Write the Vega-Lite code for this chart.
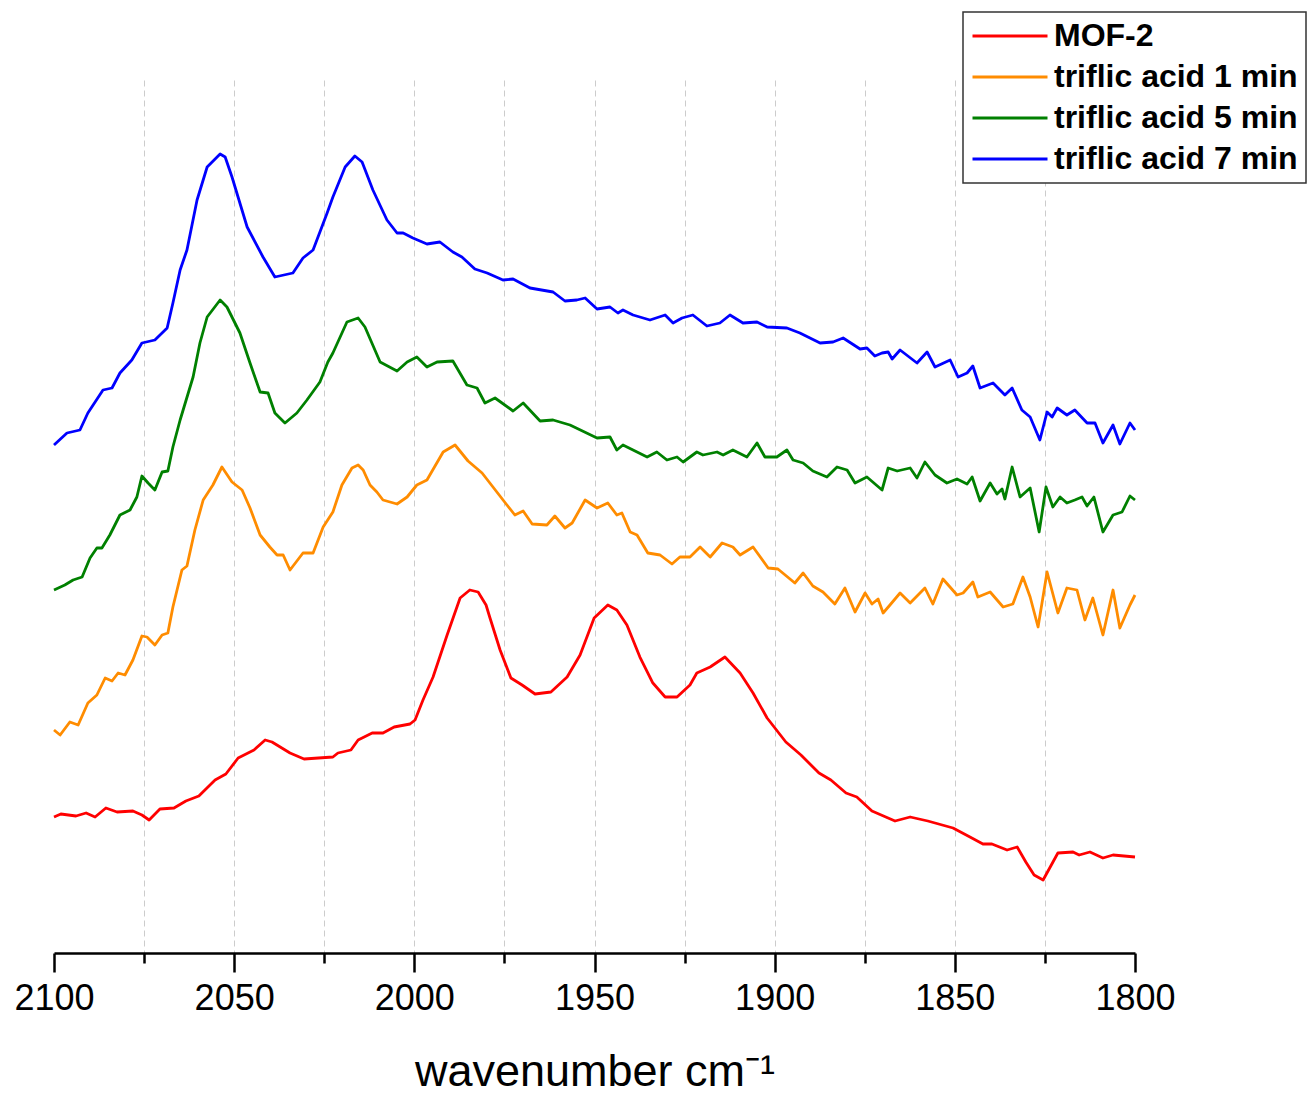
{
  "$schema": "https://vega.github.io/schema/vega-lite/v6.json",
  "width": 1081,
  "height": 873,
  "autosize": {"type": "none"},
  "padding": {"left": 54, "top": 80, "right": 173, "bottom": 142},
  "background": "white",
  "config": {"view": {"stroke": null}},
  "data": {"values": [
    {"s":"MOF-2","x":2100.0,"y":1.36},{"s":"MOF-2","x":2098.1,"y":1.39},{"s":"MOF-2","x":2093.9,"y":1.37},{"s":"MOF-2","x":2091.1,"y":1.40},{"s":"MOF-2","x":2088.6,"y":1.36},{"s":"MOF-2","x":2085.6,"y":1.45},{"s":"MOF-2","x":2082.5,"y":1.41},{"s":"MOF-2","x":2078.1,"y":1.42},{"s":"MOF-2","x":2075.6,"y":1.38},{"s":"MOF-2","x":2073.6,"y":1.33},{"s":"MOF-2","x":2070.6,"y":1.44},{"s":"MOF-2","x":2066.7,"y":1.45},{"s":"MOF-2","x":2063.4,"y":1.52},{"s":"MOF-2","x":2059.8,"y":1.57},{"s":"MOF-2","x":2055.3,"y":1.73},{"s":"MOF-2","x":2052.3,"y":1.79},{"s":"MOF-2","x":2048.9,"y":1.95},{"s":"MOF-2","x":2044.5,"y":2.03},{"s":"MOF-2","x":2041.4,"y":2.13},{"s":"MOF-2","x":2039.5,"y":2.11},{"s":"MOF-2","x":2034.5,"y":2.00},{"s":"MOF-2","x":2030.6,"y":1.94},{"s":"MOF-2","x":2022.6,"y":1.96},{"s":"MOF-2","x":2021.2,"y":2.00},{"s":"MOF-2","x":2017.6,"y":2.03},{"s":"MOF-2","x":2015.6,"y":2.13},{"s":"MOF-2","x":2011.7,"y":2.20},{"s":"MOF-2","x":2008.7,"y":2.20},{"s":"MOF-2","x":2005.6,"y":2.26},{"s":"MOF-2","x":2001.2,"y":2.29},{"s":"MOF-2","x":1999.8,"y":2.33},{"s":"MOF-2","x":1997.6,"y":2.53},{"s":"MOF-2","x":1994.8,"y":2.76},{"s":"MOF-2","x":1990.9,"y":3.18},{"s":"MOF-2","x":1987.3,"y":3.55},{"s":"MOF-2","x":1984.6,"y":3.63},{"s":"MOF-2","x":1982.3,"y":3.61},{"s":"MOF-2","x":1980.1,"y":3.48},{"s":"MOF-2","x":1979.0,"y":3.35},{"s":"MOF-2","x":1976.2,"y":3.03},{"s":"MOF-2","x":1973.2,"y":2.75},{"s":"MOF-2","x":1970.1,"y":2.68},{"s":"MOF-2","x":1966.5,"y":2.59},{"s":"MOF-2","x":1962.1,"y":2.61},{"s":"MOF-2","x":1957.6,"y":2.76},{"s":"MOF-2","x":1954.0,"y":2.98},{"s":"MOF-2","x":1950.1,"y":3.35},{"s":"MOF-2","x":1946.3,"y":3.48},{"s":"MOF-2","x":1943.8,"y":3.43},{"s":"MOF-2","x":1941.0,"y":3.28},{"s":"MOF-2","x":1937.4,"y":2.96},{"s":"MOF-2","x":1933.8,"y":2.70},{"s":"MOF-2","x":1930.4,"y":2.56},{"s":"MOF-2","x":1927.1,"y":2.56},{"s":"MOF-2","x":1923.5,"y":2.68},{"s":"MOF-2","x":1921.6,"y":2.80},{"s":"MOF-2","x":1917.9,"y":2.86},{"s":"MOF-2","x":1913.8,"y":2.96},{"s":"MOF-2","x":1909.6,"y":2.80},{"s":"MOF-2","x":1906.0,"y":2.60},{"s":"MOF-2","x":1902.1,"y":2.35},{"s":"MOF-2","x":1896.9,"y":2.11},{"s":"MOF-2","x":1892.7,"y":1.98},{"s":"MOF-2","x":1887.7,"y":1.80},{"s":"MOF-2","x":1884.4,"y":1.73},{"s":"MOF-2","x":1880.2,"y":1.60},{"s":"MOF-2","x":1877.2,"y":1.56},{"s":"MOF-2","x":1873.0,"y":1.42},{"s":"MOF-2","x":1866.6,"y":1.32},{"s":"MOF-2","x":1862.4,"y":1.36},{"s":"MOF-2","x":1857.5,"y":1.32},{"s":"MOF-2","x":1850.5,"y":1.25},{"s":"MOF-2","x":1845.8,"y":1.16},{"s":"MOF-2","x":1842.2,"y":1.09},{"s":"MOF-2","x":1839.7,"y":1.09},{"s":"MOF-2","x":1835.5,"y":1.03},{"s":"MOF-2","x":1832.7,"y":1.06},{"s":"MOF-2","x":1830.3,"y":0.91},{"s":"MOF-2","x":1828.0,"y":0.78},{"s":"MOF-2","x":1825.5,"y":0.73},{"s":"MOF-2","x":1821.4,"y":1.00},{"s":"MOF-2","x":1817.2,"y":1.01},{"s":"MOF-2","x":1815.5,"y":0.98},{"s":"MOF-2","x":1812.5,"y":1.01},{"s":"MOF-2","x":1808.9,"y":0.95},{"s":"MOF-2","x":1806.1,"y":0.98},{"s":"MOF-2","x":1800.0,"y":0.96},

    {"s":"triflic acid 1 min","x":2100.0,"y":2.23},{"s":"triflic acid 1 min","x":2098.3,"y":2.18},{"s":"triflic acid 1 min","x":2095.6,"y":2.31},{"s":"triflic acid 1 min","x":2093.3,"y":2.28},{"s":"triflic acid 1 min","x":2090.6,"y":2.50},{"s":"triflic acid 1 min","x":2088.1,"y":2.58},{"s":"triflic acid 1 min","x":2085.8,"y":2.75},{"s":"triflic acid 1 min","x":2083.9,"y":2.72},{"s":"triflic acid 1 min","x":2082.2,"y":2.80},{"s":"triflic acid 1 min","x":2080.3,"y":2.78},{"s":"triflic acid 1 min","x":2078.1,"y":2.93},{"s":"triflic acid 1 min","x":2075.6,"y":3.17},{"s":"triflic acid 1 min","x":2074.2,"y":3.16},{"s":"triflic acid 1 min","x":2072.0,"y":3.08},{"s":"triflic acid 1 min","x":2070.0,"y":3.18},{"s":"triflic acid 1 min","x":2068.4,"y":3.20},{"s":"triflic acid 1 min","x":2067.0,"y":3.46},{"s":"triflic acid 1 min","x":2064.5,"y":3.83},{"s":"triflic acid 1 min","x":2063.1,"y":3.87},{"s":"triflic acid 1 min","x":2060.9,"y":4.23},{"s":"triflic acid 1 min","x":2058.6,"y":4.53},{"s":"triflic acid 1 min","x":2055.9,"y":4.68},{"s":"triflic acid 1 min","x":2053.4,"y":4.86},{"s":"triflic acid 1 min","x":2050.6,"y":4.71},{"s":"triflic acid 1 min","x":2047.8,"y":4.63},{"s":"triflic acid 1 min","x":2045.6,"y":4.45},{"s":"triflic acid 1 min","x":2042.8,"y":4.18},{"s":"triflic acid 1 min","x":2040.1,"y":4.06},{"s":"triflic acid 1 min","x":2038.1,"y":3.98},{"s":"triflic acid 1 min","x":2036.4,"y":3.98},{"s":"triflic acid 1 min","x":2034.5,"y":3.83},{"s":"triflic acid 1 min","x":2030.9,"y":4.00},{"s":"triflic acid 1 min","x":2028.1,"y":4.00},{"s":"triflic acid 1 min","x":2025.3,"y":4.26},{"s":"triflic acid 1 min","x":2022.6,"y":4.41},{"s":"triflic acid 1 min","x":2020.1,"y":4.68},{"s":"triflic acid 1 min","x":2017.3,"y":4.85},{"s":"triflic acid 1 min","x":2015.6,"y":4.88},{"s":"triflic acid 1 min","x":2014.2,"y":4.83},{"s":"triflic acid 1 min","x":2012.3,"y":4.68},{"s":"triflic acid 1 min","x":2010.4,"y":4.61},{"s":"triflic acid 1 min","x":2008.7,"y":4.53},{"s":"triflic acid 1 min","x":2004.8,"y":4.49},{"s":"triflic acid 1 min","x":2002.0,"y":4.56},{"s":"triflic acid 1 min","x":1999.3,"y":4.68},{"s":"triflic acid 1 min","x":1996.5,"y":4.73},{"s":"triflic acid 1 min","x":1992.0,"y":5.01},{"s":"triflic acid 1 min","x":1988.7,"y":5.08},{"s":"triflic acid 1 min","x":1985.1,"y":4.92},{"s":"triflic acid 1 min","x":1981.2,"y":4.80},{"s":"triflic acid 1 min","x":1977.1,"y":4.61},{"s":"triflic acid 1 min","x":1974.3,"y":4.48},{"s":"triflic acid 1 min","x":1972.1,"y":4.38},{"s":"triflic acid 1 min","x":1969.8,"y":4.42},{"s":"triflic acid 1 min","x":1967.3,"y":4.29},{"s":"triflic acid 1 min","x":1963.2,"y":4.28},{"s":"triflic acid 1 min","x":1961.0,"y":4.37},{"s":"triflic acid 1 min","x":1958.2,"y":4.25},{"s":"triflic acid 1 min","x":1956.2,"y":4.30},{"s":"triflic acid 1 min","x":1952.6,"y":4.53},{"s":"triflic acid 1 min","x":1949.3,"y":4.45},{"s":"triflic acid 1 min","x":1946.3,"y":4.50},{"s":"triflic acid 1 min","x":1943.8,"y":4.38},{"s":"triflic acid 1 min","x":1942.4,"y":4.40},{"s":"triflic acid 1 min","x":1940.1,"y":4.21},{"s":"triflic acid 1 min","x":1938.2,"y":4.18},{"s":"triflic acid 1 min","x":1935.2,"y":4.00},{"s":"triflic acid 1 min","x":1931.8,"y":3.98},{"s":"triflic acid 1 min","x":1928.5,"y":3.89},{"s":"triflic acid 1 min","x":1926.3,"y":3.96},{"s":"triflic acid 1 min","x":1923.5,"y":3.96},{"s":"triflic acid 1 min","x":1920.7,"y":4.06},{"s":"triflic acid 1 min","x":1917.9,"y":3.96},{"s":"triflic acid 1 min","x":1914.6,"y":4.10},{"s":"triflic acid 1 min","x":1911.6,"y":4.06},{"s":"triflic acid 1 min","x":1909.6,"y":3.98},{"s":"triflic acid 1 min","x":1906.0,"y":4.06},{"s":"triflic acid 1 min","x":1901.8,"y":3.85},{"s":"triflic acid 1 min","x":1899.1,"y":3.84},{"s":"triflic acid 1 min","x":1894.4,"y":3.70},{"s":"triflic acid 1 min","x":1892.1,"y":3.80},{"s":"triflic acid 1 min","x":1889.4,"y":3.67},{"s":"triflic acid 1 min","x":1886.6,"y":3.61},{"s":"triflic acid 1 min","x":1883.3,"y":3.49},{"s":"triflic acid 1 min","x":1880.5,"y":3.65},{"s":"triflic acid 1 min","x":1877.7,"y":3.41},{"s":"triflic acid 1 min","x":1874.9,"y":3.60},{"s":"triflic acid 1 min","x":1873.0,"y":3.49},{"s":"triflic acid 1 min","x":1871.3,"y":3.54},{"s":"triflic acid 1 min","x":1869.9,"y":3.40},{"s":"triflic acid 1 min","x":1868.0,"y":3.48},{"s":"triflic acid 1 min","x":1865.2,"y":3.60},{"s":"triflic acid 1 min","x":1862.4,"y":3.50},{"s":"triflic acid 1 min","x":1858.3,"y":3.65},{"s":"triflic acid 1 min","x":1856.1,"y":3.49},{"s":"triflic acid 1 min","x":1853.3,"y":3.74},{"s":"triflic acid 1 min","x":1849.4,"y":3.58},{"s":"triflic acid 1 min","x":1847.7,"y":3.60},{"s":"triflic acid 1 min","x":1845.0,"y":3.71},{"s":"triflic acid 1 min","x":1843.6,"y":3.56},{"s":"triflic acid 1 min","x":1840.2,"y":3.61},{"s":"triflic acid 1 min","x":1836.6,"y":3.46},{"s":"triflic acid 1 min","x":1833.9,"y":3.49},{"s":"triflic acid 1 min","x":1831.1,"y":3.76},{"s":"triflic acid 1 min","x":1829.1,"y":3.56},{"s":"triflic acid 1 min","x":1826.9,"y":3.26},{"s":"triflic acid 1 min","x":1824.4,"y":3.81},{"s":"triflic acid 1 min","x":1821.4,"y":3.40},{"s":"triflic acid 1 min","x":1818.9,"y":3.65},{"s":"triflic acid 1 min","x":1816.1,"y":3.63},{"s":"triflic acid 1 min","x":1813.9,"y":3.33},{"s":"triflic acid 1 min","x":1811.7,"y":3.55},{"s":"triflic acid 1 min","x":1808.9,"y":3.18},{"s":"triflic acid 1 min","x":1806.1,"y":3.63},{"s":"triflic acid 1 min","x":1804.2,"y":3.25},{"s":"triflic acid 1 min","x":1801.4,"y":3.48},{"s":"triflic acid 1 min","x":1800.0,"y":3.58},

    {"s":"triflic acid 5 min","x":2100.0,"y":3.63},{"s":"triflic acid 5 min","x":2097.0,"y":3.68},{"s":"triflic acid 5 min","x":2094.7,"y":3.73},{"s":"triflic acid 5 min","x":2092.2,"y":3.76},{"s":"triflic acid 5 min","x":2090.0,"y":3.95},{"s":"triflic acid 5 min","x":2088.1,"y":4.05},{"s":"triflic acid 5 min","x":2086.7,"y":4.05},{"s":"triflic acid 5 min","x":2084.5,"y":4.18},{"s":"triflic acid 5 min","x":2081.7,"y":4.38},{"s":"triflic acid 5 min","x":2078.9,"y":4.43},{"s":"triflic acid 5 min","x":2077.0,"y":4.56},{"s":"triflic acid 5 min","x":2075.6,"y":4.77},{"s":"triflic acid 5 min","x":2073.9,"y":4.70},{"s":"triflic acid 5 min","x":2072.0,"y":4.63},{"s":"triflic acid 5 min","x":2070.0,"y":4.81},{"s":"triflic acid 5 min","x":2068.4,"y":4.82},{"s":"triflic acid 5 min","x":2067.0,"y":5.06},{"s":"triflic acid 5 min","x":2065.0,"y":5.33},{"s":"triflic acid 5 min","x":2061.4,"y":5.76},{"s":"triflic acid 5 min","x":2059.5,"y":6.10},{"s":"triflic acid 5 min","x":2057.5,"y":6.36},{"s":"triflic acid 5 min","x":2053.9,"y":6.53},{"s":"triflic acid 5 min","x":2052.0,"y":6.46},{"s":"triflic acid 5 min","x":2048.4,"y":6.20},{"s":"triflic acid 5 min","x":2045.6,"y":5.90},{"s":"triflic acid 5 min","x":2042.8,"y":5.61},{"s":"triflic acid 5 min","x":2040.6,"y":5.60},{"s":"triflic acid 5 min","x":2038.7,"y":5.40},{"s":"triflic acid 5 min","x":2035.9,"y":5.30},{"s":"triflic acid 5 min","x":2032.6,"y":5.40},{"s":"triflic acid 5 min","x":2029.8,"y":5.53},{"s":"triflic acid 5 min","x":2026.2,"y":5.71},{"s":"triflic acid 5 min","x":2024.0,"y":5.91},{"s":"triflic acid 5 min","x":2022.6,"y":6.00},{"s":"triflic acid 5 min","x":2018.7,"y":6.31},{"s":"triflic acid 5 min","x":2015.6,"y":6.35},{"s":"triflic acid 5 min","x":2013.7,"y":6.26},{"s":"triflic acid 5 min","x":2009.5,"y":5.91},{"s":"triflic acid 5 min","x":2004.8,"y":5.82},{"s":"triflic acid 5 min","x":2002.0,"y":5.91},{"s":"triflic acid 5 min","x":1999.3,"y":5.96},{"s":"triflic acid 5 min","x":1996.5,"y":5.86},{"s":"triflic acid 5 min","x":1993.7,"y":5.91},{"s":"triflic acid 5 min","x":1989.3,"y":5.92},{"s":"triflic acid 5 min","x":1985.4,"y":5.68},{"s":"triflic acid 5 min","x":1982.6,"y":5.65},{"s":"triflic acid 5 min","x":1980.4,"y":5.50},{"s":"triflic acid 5 min","x":1977.6,"y":5.55},{"s":"triflic acid 5 min","x":1972.6,"y":5.42},{"s":"triflic acid 5 min","x":1969.8,"y":5.50},{"s":"triflic acid 5 min","x":1965.1,"y":5.32},{"s":"triflic acid 5 min","x":1961.5,"y":5.33},{"s":"triflic acid 5 min","x":1956.8,"y":5.28},{"s":"triflic acid 5 min","x":1949.3,"y":5.15},{"s":"triflic acid 5 min","x":1945.7,"y":5.16},{"s":"triflic acid 5 min","x":1943.8,"y":5.03},{"s":"triflic acid 5 min","x":1942.1,"y":5.08},{"s":"triflic acid 5 min","x":1935.4,"y":4.96},{"s":"triflic acid 5 min","x":1932.7,"y":5.01},{"s":"triflic acid 5 min","x":1929.9,"y":4.93},{"s":"triflic acid 5 min","x":1927.1,"y":4.96},{"s":"triflic acid 5 min","x":1925.4,"y":4.91},{"s":"triflic acid 5 min","x":1921.6,"y":5.01},{"s":"triflic acid 5 min","x":1919.9,"y":4.98},{"s":"triflic acid 5 min","x":1916.0,"y":5.01},{"s":"triflic acid 5 min","x":1914.3,"y":4.98},{"s":"triflic acid 5 min","x":1911.6,"y":5.03},{"s":"triflic acid 5 min","x":1907.7,"y":4.96},{"s":"triflic acid 5 min","x":1904.9,"y":5.10},{"s":"triflic acid 5 min","x":1902.7,"y":4.96},{"s":"triflic acid 5 min","x":1899.4,"y":4.96},{"s":"triflic acid 5 min","x":1896.6,"y":5.03},{"s":"triflic acid 5 min","x":1894.9,"y":4.93},{"s":"triflic acid 5 min","x":1892.1,"y":4.90},{"s":"triflic acid 5 min","x":1889.4,"y":4.82},{"s":"triflic acid 5 min","x":1885.5,"y":4.76},{"s":"triflic acid 5 min","x":1882.7,"y":4.86},{"s":"triflic acid 5 min","x":1879.9,"y":4.83},{"s":"triflic acid 5 min","x":1877.7,"y":4.70},{"s":"triflic acid 5 min","x":1874.4,"y":4.76},{"s":"triflic acid 5 min","x":1870.2,"y":4.63},{"s":"triflic acid 5 min","x":1868.5,"y":4.85},{"s":"triflic acid 5 min","x":1866.0,"y":4.82},{"s":"triflic acid 5 min","x":1862.4,"y":4.85},{"s":"triflic acid 5 min","x":1860.5,"y":4.75},{"s":"triflic acid 5 min","x":1858.3,"y":4.91},{"s":"triflic acid 5 min","x":1855.5,"y":4.78},{"s":"triflic acid 5 min","x":1852.2,"y":4.70},{"s":"triflic acid 5 min","x":1849.4,"y":4.74},{"s":"triflic acid 5 min","x":1846.6,"y":4.69},{"s":"triflic acid 5 min","x":1845.2,"y":4.76},{"s":"triflic acid 5 min","x":1843.0,"y":4.52},{"s":"triflic acid 5 min","x":1840.2,"y":4.70},{"s":"triflic acid 5 min","x":1838.3,"y":4.59},{"s":"triflic acid 5 min","x":1836.9,"y":4.64},{"s":"triflic acid 5 min","x":1836.1,"y":4.54},{"s":"triflic acid 5 min","x":1834.1,"y":4.86},{"s":"triflic acid 5 min","x":1831.9,"y":4.56},{"s":"triflic acid 5 min","x":1829.1,"y":4.65},{"s":"triflic acid 5 min","x":1826.6,"y":4.21},{"s":"triflic acid 5 min","x":1824.7,"y":4.66},{"s":"triflic acid 5 min","x":1822.8,"y":4.46},{"s":"triflic acid 5 min","x":1820.8,"y":4.56},{"s":"triflic acid 5 min","x":1818.9,"y":4.50},{"s":"triflic acid 5 min","x":1816.7,"y":4.53},{"s":"triflic acid 5 min","x":1814.7,"y":4.56},{"s":"triflic acid 5 min","x":1813.3,"y":4.47},{"s":"triflic acid 5 min","x":1811.4,"y":4.56},{"s":"triflic acid 5 min","x":1808.9,"y":4.21},{"s":"triflic acid 5 min","x":1806.1,"y":4.38},{"s":"triflic acid 5 min","x":1803.6,"y":4.41},{"s":"triflic acid 5 min","x":1801.4,"y":4.57},{"s":"triflic acid 5 min","x":1800.0,"y":4.53},

    {"s":"triflic acid 7 min","x":2100.0,"y":5.08},{"s":"triflic acid 7 min","x":2096.4,"y":5.20},{"s":"triflic acid 7 min","x":2092.8,"y":5.23},{"s":"triflic acid 7 min","x":2090.6,"y":5.40},{"s":"triflic acid 7 min","x":2086.4,"y":5.63},{"s":"triflic acid 7 min","x":2083.9,"y":5.65},{"s":"triflic acid 7 min","x":2081.7,"y":5.80},{"s":"triflic acid 7 min","x":2078.4,"y":5.93},{"s":"triflic acid 7 min","x":2075.6,"y":6.10},{"s":"triflic acid 7 min","x":2072.0,"y":6.13},{"s":"triflic acid 7 min","x":2068.6,"y":6.25},{"s":"triflic acid 7 min","x":2067.0,"y":6.50},{"s":"triflic acid 7 min","x":2065.0,"y":6.83},{"s":"triflic acid 7 min","x":2063.1,"y":7.03},{"s":"triflic acid 7 min","x":2060.3,"y":7.53},{"s":"triflic acid 7 min","x":2057.5,"y":7.86},{"s":"triflic acid 7 min","x":2053.9,"y":7.99},{"s":"triflic acid 7 min","x":2052.5,"y":7.96},{"s":"triflic acid 7 min","x":2050.6,"y":7.76},{"s":"triflic acid 7 min","x":2046.4,"y":7.26},{"s":"triflic acid 7 min","x":2042.0,"y":6.96},{"s":"triflic acid 7 min","x":2038.7,"y":6.76},{"s":"triflic acid 7 min","x":2033.7,"y":6.80},{"s":"triflic acid 7 min","x":2030.9,"y":6.95},{"s":"triflic acid 7 min","x":2028.1,"y":7.03},{"s":"triflic acid 7 min","x":2024.2,"y":7.40},{"s":"triflic acid 7 min","x":2022.6,"y":7.56},{"s":"triflic acid 7 min","x":2019.2,"y":7.86},{"s":"triflic acid 7 min","x":2016.5,"y":7.97},{"s":"triflic acid 7 min","x":2014.5,"y":7.91},{"s":"triflic acid 7 min","x":2011.5,"y":7.63},{"s":"triflic acid 7 min","x":2007.6,"y":7.33},{"s":"triflic acid 7 min","x":2004.8,"y":7.20},{"s":"triflic acid 7 min","x":2003.1,"y":7.20},{"s":"triflic acid 7 min","x":2000.4,"y":7.15},{"s":"triflic acid 7 min","x":1996.5,"y":7.09},{"s":"triflic acid 7 min","x":1992.9,"y":7.11},{"s":"triflic acid 7 min","x":1989.3,"y":7.01},{"s":"triflic acid 7 min","x":1986.8,"y":6.96},{"s":"triflic acid 7 min","x":1983.2,"y":6.84},{"s":"triflic acid 7 min","x":1979.8,"y":6.80},{"s":"triflic acid 7 min","x":1975.4,"y":6.73},{"s":"triflic acid 7 min","x":1972.6,"y":6.74},{"s":"triflic acid 7 min","x":1967.9,"y":6.65},{"s":"triflic acid 7 min","x":1961.5,"y":6.61},{"s":"triflic acid 7 min","x":1958.2,"y":6.52},{"s":"triflic acid 7 min","x":1954.9,"y":6.53},{"s":"triflic acid 7 min","x":1952.6,"y":6.55},{"s":"triflic acid 7 min","x":1949.3,"y":6.44},{"s":"triflic acid 7 min","x":1945.7,"y":6.46},{"s":"triflic acid 7 min","x":1943.5,"y":6.40},{"s":"triflic acid 7 min","x":1942.1,"y":6.43},{"s":"triflic acid 7 min","x":1939.3,"y":6.38},{"s":"triflic acid 7 min","x":1934.6,"y":6.33},{"s":"triflic acid 7 min","x":1930.4,"y":6.38},{"s":"triflic acid 7 min","x":1928.2,"y":6.30},{"s":"triflic acid 7 min","x":1925.7,"y":6.35},{"s":"triflic acid 7 min","x":1922.7,"y":6.38},{"s":"triflic acid 7 min","x":1918.8,"y":6.27},{"s":"triflic acid 7 min","x":1915.2,"y":6.30},{"s":"triflic acid 7 min","x":1912.4,"y":6.38},{"s":"triflic acid 7 min","x":1908.8,"y":6.30},{"s":"triflic acid 7 min","x":1904.9,"y":6.31},{"s":"triflic acid 7 min","x":1902.1,"y":6.26},{"s":"triflic acid 7 min","x":1896.6,"y":6.25},{"s":"triflic acid 7 min","x":1893.0,"y":6.20},{"s":"triflic acid 7 min","x":1887.4,"y":6.10},{"s":"triflic acid 7 min","x":1883.8,"y":6.11},{"s":"triflic acid 7 min","x":1881.0,"y":6.15},{"s":"triflic acid 7 min","x":1876.3,"y":6.04},{"s":"triflic acid 7 min","x":1874.4,"y":6.05},{"s":"triflic acid 7 min","x":1872.2,"y":5.97},{"s":"triflic acid 7 min","x":1870.2,"y":6.00},{"s":"triflic acid 7 min","x":1868.5,"y":6.01},{"s":"triflic acid 7 min","x":1867.4,"y":5.94},{"s":"triflic acid 7 min","x":1865.2,"y":6.03},{"s":"triflic acid 7 min","x":1860.5,"y":5.90},{"s":"triflic acid 7 min","x":1857.7,"y":6.01},{"s":"triflic acid 7 min","x":1855.5,"y":5.86},{"s":"triflic acid 7 min","x":1851.3,"y":5.93},{"s":"triflic acid 7 min","x":1849.1,"y":5.76},{"s":"triflic acid 7 min","x":1846.6,"y":5.80},{"s":"triflic acid 7 min","x":1845.0,"y":5.87},{"s":"triflic acid 7 min","x":1843.0,"y":5.65},{"s":"triflic acid 7 min","x":1839.4,"y":5.70},{"s":"triflic acid 7 min","x":1836.1,"y":5.58},{"s":"triflic acid 7 min","x":1834.1,"y":5.65},{"s":"triflic acid 7 min","x":1831.4,"y":5.43},{"s":"triflic acid 7 min","x":1829.1,"y":5.36},{"s":"triflic acid 7 min","x":1826.4,"y":5.13},{"s":"triflic acid 7 min","x":1824.4,"y":5.41},{"s":"triflic acid 7 min","x":1823.0,"y":5.36},{"s":"triflic acid 7 min","x":1821.6,"y":5.45},{"s":"triflic acid 7 min","x":1818.9,"y":5.38},{"s":"triflic acid 7 min","x":1816.7,"y":5.43},{"s":"triflic acid 7 min","x":1813.3,"y":5.30},{"s":"triflic acid 7 min","x":1811.1,"y":5.30},{"s":"triflic acid 7 min","x":1808.9,"y":5.10},{"s":"triflic acid 7 min","x":1806.1,"y":5.28},{"s":"triflic acid 7 min","x":1804.2,"y":5.09},{"s":"triflic acid 7 min","x":1801.4,"y":5.30},{"s":"triflic acid 7 min","x":1800.0,"y":5.23}
  ]},
  "mark": {"type": "line", "strokeWidth": 2.8, "strokeJoin": "round", "interpolate": "linear"},
  "encoding": {
    "x": {
      "field": "x", "type": "quantitative",
      "scale": {"domain": [1800, 2100], "reverse": true, "nice": false, "zero": false},
      "axis": {
        "values": [2100, 2075, 2050, 2025, 2000, 1975, 1950, 1925, 1900, 1875, 1850, 1825, 1800],
        "format": "d",
        "labelExpr": "datum.value % 50 === 0 ? datum.label : ''",
        "labelOverlap": false,
        "labelFlush": false,
        "labelFont": "Liberation Sans",
        "labelFontSize": 36,
        "labelColor": "black",
        "labelPadding": 9,
        "grid": true,
        "gridColor": "#cccccc",
        "gridDash": [6, 4],
        "gridWidth": 1,
        "gridOpacity": {"condition": {"test": "datum.value === 2100 || datum.value === 1800", "value": 0}, "value": 1},
        "ticks": true,
        "tickColor": "black",
        "tickWidth": 2.5,
        "tickSize": {"condition": {"test": "datum.value % 50 === 0", "value": 19}, "value": 10},
        "domainColor": "black",
        "domainWidth": 2.5,
        "title": "wavenumber cm⁻¹",
        "titleFont": "Liberation Sans",
        "titleFontSize": 45,
        "titleFontWeight": "normal",
        "titleColor": "black",
        "titlePadding": 33
      }
    },
    "y": {
      "field": "y", "type": "quantitative",
      "scale": {"domain": [0, 8.73], "nice": false, "zero": false},
      "axis": null
    },
    "color": {
      "field": "s", "type": "nominal",
      "scale": {
        "domain": ["MOF-2", "triflic acid 1 min", "triflic acid 5 min", "triflic acid 7 min"],
        "range": ["#FF0000", "#FF8C00", "#008000", "#0000FF"]
      },
      "legend": {
        "title": null,
        "orient": "none",
        "legendX": 909,
        "legendY": -68,
        "symbolType": "stroke",
        "symbolSize": 5625,
        "symbolStrokeWidth": 3,
        "clipHeight": 32,
        "rowPadding": 9,
        "labelOffset": 5,
        "labelFont": "Liberation Sans",
        "labelFontSize": 32,
        "labelFontWeight": "bold",
        "labelColor": "black",
        "labelLimit": 400,
        "padding": 8,
        "strokeColor": "#333333",
        "fillColor": "white",
        "encode": {"legend": {"update": {"strokeWidth": {"value": 1.5}}}}
      }
    }
  }
}
